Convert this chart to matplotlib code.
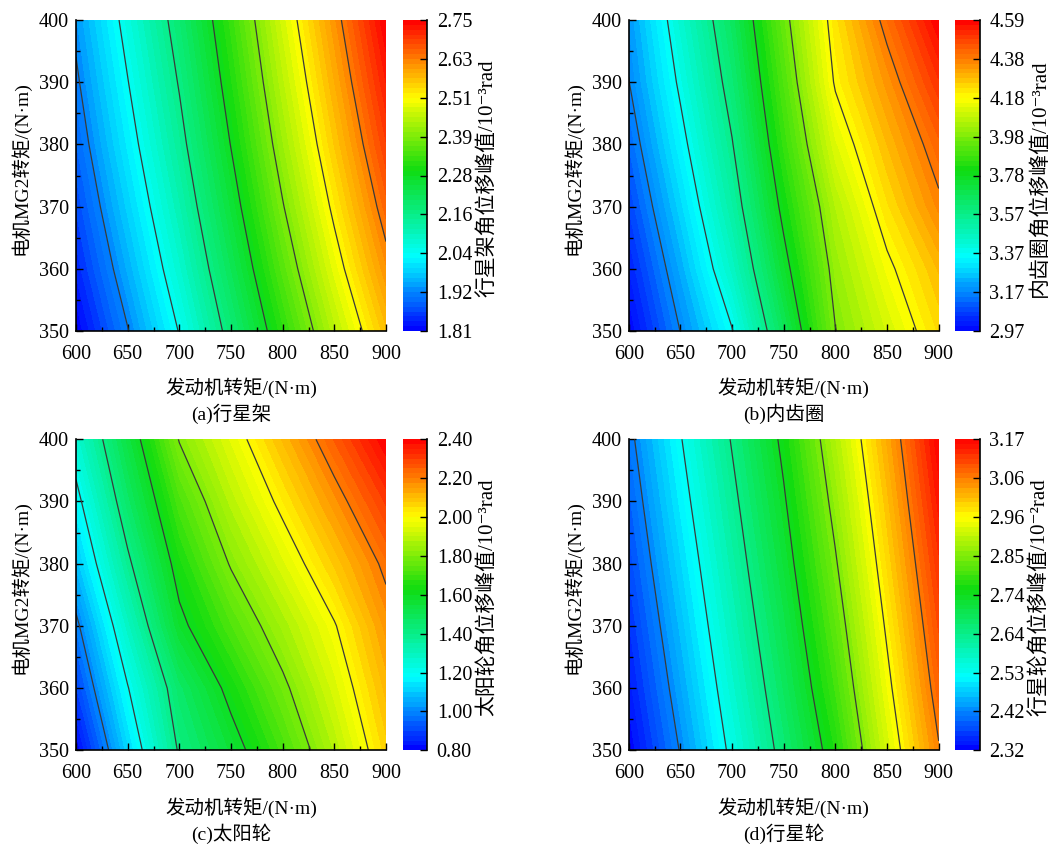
import numpy as np
import matplotlib
matplotlib.use("Agg")
import matplotlib.pyplot as plt
from matplotlib.colors import LinearSegmentedColormap
from matplotlib.ticker import MultipleLocator

plt.rcParams['font.family'] = ['Liberation Serif', 'DejaVu Serif', 'Noto Sans CJK SC']
plt.rcParams['font.size'] = 14

# grid of operating points
engine_torque = [600, 650, 700, 750, 800, 850, 900]
mg2_torque = [350, 360, 370, 380, 390, 400]

# peak angular displacement, rows = MG2 torque, cols = engine torque
carrier_disp = [
    [1.810, 1.925, 2.048, 2.185, 2.320, 2.450, 2.570],
    [1.843, 1.960, 2.084, 2.221, 2.359, 2.491, 2.615],
    [1.871, 1.991, 2.115, 2.253, 2.394, 2.527, 2.655],
    [1.897, 2.019, 2.143, 2.282, 2.425, 2.560, 2.690],
    [1.919, 2.043, 2.167, 2.307, 2.452, 2.588, 2.721],
    [1.940, 2.066, 2.190, 2.330, 2.477, 2.614, 2.750],
]
ring_disp = [
    [2.970, 3.174, 3.370, 3.674, 3.980, 4.112, 4.240],
    [3.020, 3.230, 3.458, 3.747, 4.015, 4.166, 4.290],
    [3.073, 3.288, 3.522, 3.807, 4.059, 4.230, 4.370],
    [3.123, 3.343, 3.572, 3.862, 4.128, 4.287, 4.430],
    [3.170, 3.392, 3.620, 3.908, 4.195, 4.347, 4.510],
    [3.200, 3.434, 3.662, 3.951, 4.227, 4.414, 4.590],
]
sun_disp = [
    [0.800, 1.116, 1.412, 1.556, 1.709, 1.878, 2.063],
    [0.896, 1.195, 1.463, 1.631, 1.779, 1.937, 2.110],
    [0.979, 1.286, 1.574, 1.722, 1.857, 1.993, 2.160],
    [1.083, 1.380, 1.641, 1.808, 1.942, 2.080, 2.220],
    [1.169, 1.463, 1.716, 1.884, 2.024, 2.165, 2.305],
    [1.257, 1.534, 1.805, 1.954, 2.104, 2.253, 2.400],
]
planet_disp = [
    [2.320, 2.429, 2.545, 2.659, 2.773, 2.921, 3.060],
    [2.340, 2.450, 2.566, 2.680, 2.800, 2.944, 3.085],
    [2.358, 2.470, 2.586, 2.700, 2.823, 2.965, 3.106],
    [2.377, 2.490, 2.605, 2.720, 2.846, 2.986, 3.127],
    [2.395, 2.510, 2.624, 2.739, 2.868, 3.006, 3.149],
    [2.413, 2.529, 2.643, 2.758, 2.890, 3.026, 3.170],
]

carrier_ticks = ["1.81", "1.92", "2.04", "2.16", "2.28", "2.39", "2.51", "2.63", "2.75"]
ring_ticks = ["2.97", "3.17", "3.37", "3.57", "3.78", "3.98", "4.18", "4.38", "4.59"]
sun_ticks = ["0.80", "1.00", "1.20", "1.40", "1.60", "1.80", "2.00", "2.20", "2.40"]
planet_ticks = ["2.32", "2.42", "2.53", "2.64", "2.74", "2.85", "2.96", "3.06", "3.17"]

cbar_titles = ["行星架角位移峰值/10⁻³rad", "内齿圈角位移峰值/10⁻³rad",
               "太阳轮角位移峰值/10⁻³rad", "行星轮角位移峰值/10⁻²rad"]
captions = ["(a)行星架", "(b)内齿圈", "(c)太阳轮", "(d)行星轮"]
xlabel = "发动机转矩/(N·m)"
ylabel = "电机MG2转矩/(N·m)"

cmap = LinearSegmentedColormap.from_list(
    "origin_rainbow",
    [(0.0, "#0000ff"), (0.235, "#00ffff"), (0.52, "#10dc10"),
     (0.75, "#ffff00"), (1.0, "#ff0000")])

W, H = 1064, 844
fig = plt.figure(figsize=(W / 100, H / 100), dpi=100)


def rect(x0, y0, x1, y1):
    return [x0 / W, 1 - y1 / H, (x1 - x0) / W, (y1 - y0) / H]


panels = [
    (carrier_disp, carrier_ticks, 0, 0),
    (ring_disp, ring_ticks, 552.7, 0),
    (sun_disp, sun_ticks, 0, 419.3),
    (planet_disp, planet_ticks, 552.7, 419.3),
]

X, Y = np.meshgrid(engine_torque, mg2_torque)

for i, (z, ticks, dx, dy) in enumerate(panels):
    Z = np.array(z)
    vmin, vmax = float(ticks[0]), float(ticks[-1])
    tick_vals = np.linspace(vmin, vmax, len(ticks))

    ax = fig.add_axes(rect(76 + dx, 20 + dy, 386 + dx, 331 + dy))
    cf = ax.contourf(X, Y, Z, levels=np.linspace(vmin, vmax, 65), cmap=cmap,
                     vmin=vmin, vmax=vmax, antialiased=False)
    ax.contour(X, Y, Z, levels=tick_vals[1:-1], colors="#3a3a3a", linewidths=0.9)

    ax.set_xlim(600, 900)
    ax.set_ylim(350, 400)
    ax.xaxis.set_major_locator(MultipleLocator(50))
    ax.xaxis.set_minor_locator(MultipleLocator(25))
    ax.yaxis.set_major_locator(MultipleLocator(10))
    ax.yaxis.set_minor_locator(MultipleLocator(5))
    ax.tick_params(which="both", direction="in", top=False, right=False, width=1)
    ax.tick_params(which="major", length=5, labelsize=14.5)
    ax.tick_params(which="minor", length=3)
    ax.tick_params(axis="x", pad=10)
    ax.tick_params(axis="y", pad=5)
    for s in ["top", "right"]:
        ax.spines[s].set_visible(False)
    for s in ["left", "bottom"]:
        ax.spines[s].set_linewidth(1.2)

    cax = fig.add_axes(rect(402.7 + dx, 20 + dy, 427 + dx, 331 + dy))
    cbar = fig.colorbar(cf, cax=cax, ticks=tick_vals)
    cbar.ax.set_yticklabels(ticks)
    cbar.outline.set_visible(False)
    cax.tick_params(direction="in", length=5, width=1, right=True, left=False,
                    labelsize=14.5, pad=7)
    cax.plot([1, 1], [0, 1], transform=cax.transAxes, color="k", lw=1.2,
             clip_on=False)

    # labels
    fig.text((241 + dx) / W, 1 - (388 + dy) / H, xlabel, ha="center", va="center")
    fig.text((231 + dx) / W, 1 - (414 + dy) / H, captions[i], ha="center", va="center")
    fig.text((20 + dx) / W, 1 - (168 + dy) / H, ylabel, ha="center", va="center",
             rotation=90)
    fig.text((487 + dx) / W, 1 - (178 + dy) / H, cbar_titles[i], ha="center",
             va="center", rotation=90, fontsize=15)

fig.savefig("out.png", dpi=100)
